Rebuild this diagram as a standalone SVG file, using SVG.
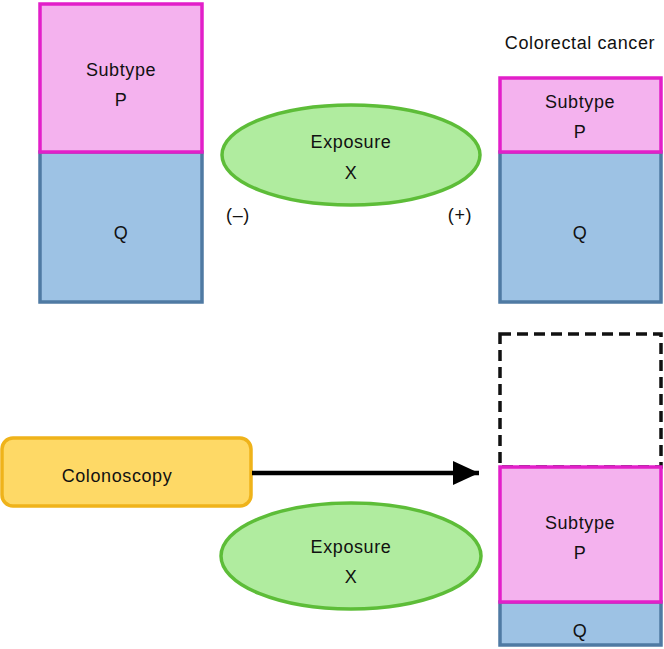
<svg xmlns="http://www.w3.org/2000/svg" width="664" height="649" viewBox="0 0 664 649">
<style>
text{font-family:"Liberation Sans",Arial,sans-serif;font-size:18px;fill:#111;text-anchor:middle;letter-spacing:0.6px}
.p{fill:#f4b2ee;stroke:#e21fc9;stroke-width:3.5}
.q{fill:#9dc2e4;stroke:#4f7aa3;stroke-width:3.5}
.e{fill:#b0ec9f;stroke:#5dbd38;stroke-width:3.5}
.y{fill:#fed966;stroke:#efb31a;stroke-width:3.5}
.d{fill:none;stroke:#111;stroke-width:3.5;stroke-dasharray:11,6}
</style>
<defs>
<marker id="ah2" viewBox="0 0 26 24" refX="26" refY="12" markerWidth="26" markerHeight="24" orient="auto" markerUnits="userSpaceOnUse">
<path d="M0,0 L26,12 L0,24 z" fill="#000"/>
</marker>
</defs>
<g id="top-left">
<rect class="q" x="40" y="152" width="162" height="150"/>
<rect class="p" x="40" y="4" width="162" height="148"/>
<text x="121" y="76">Subtype</text>
<text x="121" y="106">P</text>
<text x="121" y="239">Q</text>
</g>
<g id="top-exposure">
<ellipse class="e" cx="351" cy="155" rx="129" ry="50"/>
<text x="351" y="148">Exposure</text>
<text x="351" y="179">X</text>
</g>
<text x="238" y="221">(–)</text>
<text x="460" y="221">(+)</text>
<g id="top-right">
<text x="580" y="49">Colorectal cancer</text>
<rect class="q" x="500" y="152" width="161" height="150"/>
<rect class="p" x="500" y="78" width="161" height="74"/>
<text x="580" y="108">Subtype</text>
<text x="580" y="138">P</text>
<text x="580" y="239">Q</text>
</g>
<g id="colonoscopy">
<rect class="y" x="2" y="438" width="249" height="68" rx="11"/>
<text x="117" y="482">Colonoscopy</text>
</g>
<g id="bottom-exposure">
<ellipse class="e" cx="351" cy="556" rx="130" ry="53"/>
<text x="351" y="553">Exposure</text>
<text x="351" y="583">X</text>
</g>
<g id="bottom-right">
<rect class="d" x="500" y="334" width="161" height="133"/>
<rect class="q" x="500" y="602" width="161" height="43"/>
<rect class="p" x="500" y="467" width="161" height="135"/>
<text x="580" y="529">Subtype</text>
<text x="580" y="559">P</text>
<text x="580" y="637">Q</text>
</g>
<g id="connectors">
<line x1="252" y1="473" x2="479" y2="473" stroke="#000" stroke-width="4.5" marker-end="url(#ah2)"/>
</g>
</svg>
